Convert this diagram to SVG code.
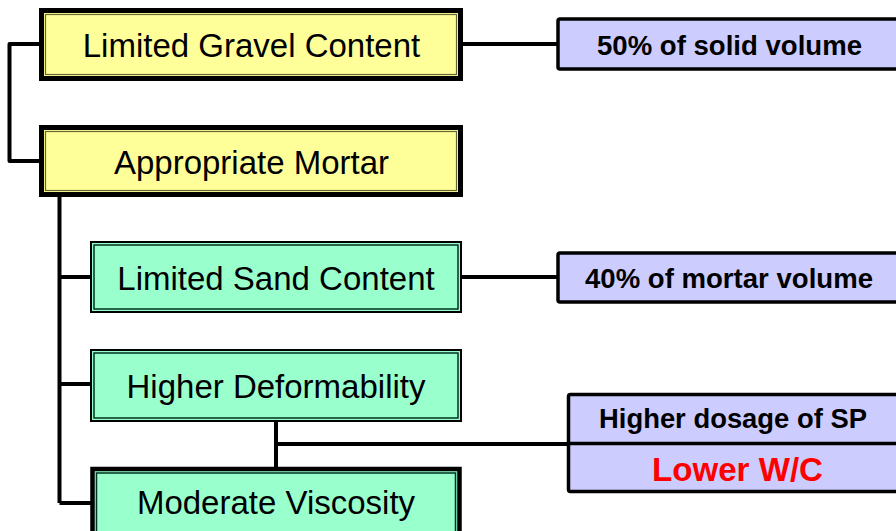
<svg xmlns="http://www.w3.org/2000/svg" width="896" height="531" viewBox="0 0 896 531">
<style>
.yel{fill:#FFFF99;stroke:#000;stroke-width:5}
.yin{fill:none;stroke:#666633;stroke-width:1.2}
.grn{fill:#99FFCC;stroke:#000;stroke-width:2}
.grnk{fill:#99FFCC;stroke:#000;stroke-width:4.5}
.gin{fill:none;stroke:#003322;stroke-width:1.5}
.pur{fill:#CCCCFF;stroke:#000;stroke-width:3.5}
.t{font-family:"Liberation Sans",Arial,sans-serif;font-size:33px;fill:#000;text-anchor:middle}
.b{font-family:"Liberation Sans",Arial,sans-serif;font-weight:bold;font-size:27.5px;fill:#000;text-anchor:middle}
.conn{fill:none;stroke:#000;stroke-width:4;stroke-linejoin:round}
</style>
<g id="connectors">
<path class="conn" d="M40 44 H9.5 V161 H40"/>
<path class="conn" d="M59.5 197 V503"/>
<path class="conn" d="M59.5 277 H91 M59.5 384 H91 M59.5 503 H91"/>
<path class="conn" d="M463 44 H557"/>
<path class="conn" d="M461 277 H557"/>
<path class="conn" d="M276 421 V467"/>
<path class="conn" d="M276 444 H568"/>
</g>
<g id="gravel">
<rect class="yel" x="41.5" y="10.5" width="419" height="68"/>
<rect class="yin" x="45.5" y="14.5" width="411" height="60"/>
<text class="t" x="251.5" y="56.5">Limited Gravel Content</text>
</g>
<g id="mortar">
<rect class="yel" x="41.5" y="127.5" width="419" height="67"/>
<rect class="yin" x="45.5" y="131.5" width="411" height="59"/>
<text class="t" x="251.5" y="173.5">Appropriate Mortar</text>
</g>
<g id="solid">
<rect class="pur" x="558" y="19" width="400" height="50" rx="2"/>
<text class="b" x="729.5" y="55" textLength="265" lengthAdjust="spacingAndGlyphs">50% of solid volume</text>
</g>
<g id="sand">
<rect class="grn" x="91" y="242" width="370" height="70"/>
<rect class="gin" x="94" y="245" width="364" height="64"/>
<text class="t" x="276" y="289.5">Limited Sand Content</text>
</g>
<g id="mortarvol">
<rect class="pur" x="558" y="253" width="400" height="49" rx="2"/>
<text class="b" x="729" y="288" textLength="288" lengthAdjust="spacingAndGlyphs">40% of mortar volume</text>
</g>
<g id="deform">
<rect class="grn" x="91" y="350" width="370" height="71"/>
<rect class="gin" x="94" y="353" width="364" height="65"/>
<text class="t" x="276" y="397.5">Higher Deformability</text>
</g>
<g id="viscosity">
<rect class="grnk" x="92.5" y="469" width="367" height="80"/>
<rect class="gin" x="96.5" y="473" width="359" height="72"/>
<text class="t" x="276" y="514">Moderate Viscosity</text>
</g>
<g id="sp">
<rect class="pur" x="568.5" y="394.5" width="400" height="97" rx="2"/>
<line x1="568" y1="443.5" x2="896" y2="443.5" stroke="#000" stroke-width="3.5"/>
<text class="b" x="733" y="428" textLength="268" lengthAdjust="spacingAndGlyphs">Higher dosage of SP</text>
<text class="b" x="737.5" y="481" style="font-size:33px;fill:#FF0000" textLength="171" lengthAdjust="spacingAndGlyphs">Lower W/C</text>
</g>
</svg>
